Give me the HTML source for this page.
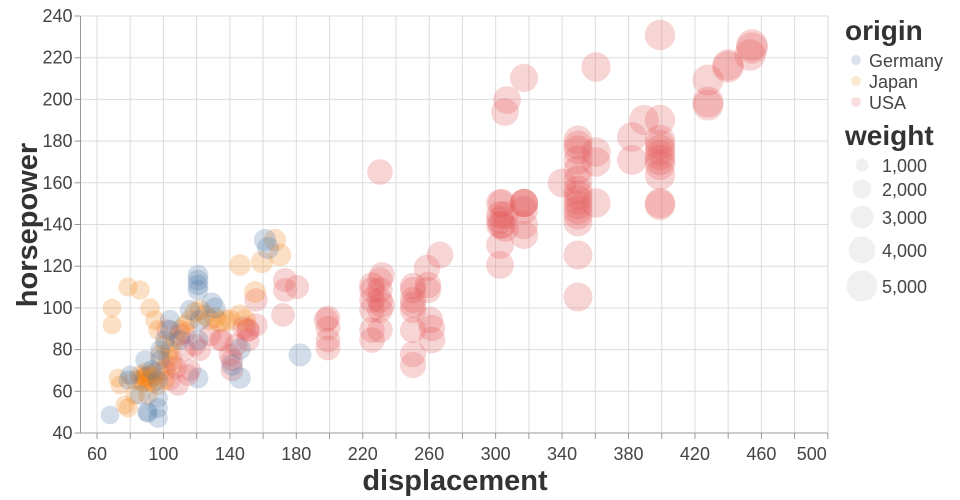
<!DOCTYPE html>
<html><head><meta charset="utf-8"><style>
html,body{margin:0;padding:0;background:#fff;width:960px;height:500px;overflow:hidden}
svg text{font-family:"Liberation Sans","DejaVu Sans",sans-serif;fill:#444}
</style></head><body>
<svg id="s" width="960" height="500" xmlns="http://www.w3.org/2000/svg">
<g id="grid" stroke="#ddd" stroke-width="1"></g>
<g id="pts"></g>
<g id="ax"></g>
<text x="455" y="490" text-anchor="middle" font-size="29" font-weight="bold" style="fill:#333">displacement</text>
<text transform="translate(37,225) rotate(-90)" text-anchor="middle" font-size="29" font-weight="bold" style="fill:#333">horsepower</text>
<text x="845" y="40" font-size="28" font-weight="bold" style="fill:#333">origin</text>
<circle cx="856" cy="60" r="5" fill="#4c78a8" fill-opacity="0.2"/>
<circle cx="856" cy="81" r="5" fill="#f58518" fill-opacity="0.2"/>
<circle cx="856" cy="102" r="5" fill="#e45756" fill-opacity="0.2"/>
<text x="869" y="67" font-size="18">Germany</text>
<text x="869" y="88" font-size="18">Japan</text>
<text x="869" y="109" font-size="18">USA</text>
<text x="845" y="145" font-size="28" font-weight="bold" style="fill:#333">weight</text>
<g fill="#000" fill-opacity="0.06">
<circle cx="862" cy="165" r="6.5"/><circle cx="862" cy="189" r="9.5"/><circle cx="862" cy="217" r="11.5"/><circle cx="862" cy="250" r="13.5"/><circle cx="862" cy="286" r="15.5"/></g>
<text x="882" y="172" font-size="18">1,000</text>
<text x="882" y="196" font-size="18">2,000</text>
<text x="882" y="224" font-size="18">3,000</text>
<text x="882" y="257" font-size="18">4,000</text>
<text x="882" y="293" font-size="18">5,000</text>
</svg>
<script>
var NS="http://www.w3.org/2000/svg";
function el(t,a,p,txt){var e=document.createElementNS(NS,t);for(var k in a)e.setAttribute(k,a[k]);if(txt)e.textContent=txt;document.getElementById(p).appendChild(e);return e;}
var L=80.5,R=828,T=16,B=433;
function X(d){return 97+(d-60)*1.661;}
function Y(h){return B-(h-40)*2.085;}
for(var d=60;d<=500;d+=20){var x=X(d);el("line",{x1:x,x2:x,y1:T,y2:B},"grid");
 el("line",{x1:x,x2:x,y1:B,y2:B+6,stroke:"#999"},"ax");
 if(d%40==20){var anc=d==500?"end":"middle";el("text",{x:d==500?x-1:x,y:B+27,"font-size":"18","text-anchor":anc},"ax",String(d));}}
el("line",{x1:L,x2:L,y1:T,y2:B},"grid");el("line",{x1:R,x2:R,y1:T,y2:B},"grid");
for(var h=40;h<=240;h+=20){var y=Y(h);el("line",{x1:L,x2:R,y1:y,y2:y},"grid");
 el("line",{x1:L-6,x2:L,y1:y,y2:y,stroke:"#999"},"ax");
 el("text",{x:L-8,y:y+6,"font-size":"18","text-anchor":"end"},"ax",String(h));}
el("line",{x1:L,x2:R,y1:B,y2:B,stroke:"#999"},"ax");
el("line",{x1:L,x2:L,y1:T,y2:B,stroke:"#999"},"ax");
var C={g:"#4c78a8",j:"#f58518",u:"#e45756"};
var P=[
"u 752 45","u 752 48","u 750 55","u 728 65","u 728 67","u 708 102","u 708 105","u 708 80",
"u 660 35","u 660 120","u 660 140","u 660 150","u 660 155","u 660 165","u 660 175","u 660 203","u 660 205","u 660 145","u 660 160",
"u 644 120","u 632 137","u 632 160","u 596 67","u 596 152","u 596 162","u 596 203",
"u 578 140","u 578 145","u 578 160","u 578 170","u 578 180","u 578 190","u 578 195","u 578 200","u 578 210","u 578 215","u 578 222","u 578 255","u 578 297","u 578 150","u 578 205",
"u 562 183","u 524 78","u 524 203","u 524 210","u 524 225","u 524 235","u 524 203","u 524 203",
"u 507 100","u 505 112","u 500 203","u 500 215","u 500 225","u 500 245","u 500 265","u 505 215","u 505 228","u 500 220","u 502 225","u 502 203",
"u 413 286","u 413 300","u 413 310","u 413 330","u 413 365","u 413 354","u 413 290","u 413 305",
"u 428 285","u 428 290","u 430 320","u 432 328","u 432 340","u 440 255","u 427 268",
"u 380 172","u 380 280","u 380 290","u 380 300","u 380 310","u 380 330","u 372 290","u 372 300","u 372 310","u 372 330","u 372 340","u 382 305","u 382 275","u 372 285",
"u 328 318","u 328 328","u 328 340","u 328 348","u 326 320",
"u 285 280","u 285 290","u 283 315","u 297 287","u 256 300","u 256 325","u 248 330","u 248 340","u 232 360","u 232 370","u 220 340","u 248 330","u 236 345",
"u 167 330","u 172 360","u 180 335","u 185 350","u 190 370","u 170 380","u 200 350","u 185 333","u 195 345","u 178 385","u 165 370","u 210 335","u 222 340",
"j 112 308","j 112 325","j 128 287","j 140 290","j 150 308","j 155 320","j 158 330","j 165 345","j 160 355","j 165 380","j 150 375","j 140 375","j 135 380","j 120 385","j 125 405","j 135 395","j 200 310","j 210 320","j 225 320","j 240 265","j 240 315","j 245 320","j 255 292","j 262 262","j 275 240","j 280 255",
"j 145 378","j 148 382","j 152 377","j 146 372","j 143 383","j 155 372","j 158 385","j 170 350","j 175 340","j 180 330","j 190 320","j 195 312","j 215 318","j 230 320","j 128 408","j 118 378","j 148 395","j 140 380",
"j 147 376","j 150 380","j 144 377","j 153 383","j 160 372","j 172 365","j 168 358","j 185 325","j 205 315","j 220 322",
"g 110 415","g 130 375","g 128 380","g 140 395","g 148 413","g 158 418","g 158 408","g 158 398","g 158 380","g 160 360","g 160 350","g 165 340","g 170 320","g 180 340","g 190 310","g 198 280","g 198 275","g 198 285","g 198 290","g 198 340","g 198 378","g 212 303","g 215 308","g 232 365","g 240 378","g 240 349","g 265 240","g 268 248","g 300 355","g 200 320","g 145 360","g 152 370","g 147 412","g 170 330",
"u 188 375","u 176 368","u 230 355","u 244 328"
];
P.forEach(function(s){var a=s.split(" ");var x=+a[1],y=+a[2];var d=(x-97)/1.661+60;var w=1200+d*7.5;if(a[0]=="u")w+=300;var r=15*Math.sqrt(w/4400);
el("circle",{cx:x,cy:y,r:r.toFixed(1),fill:C[a[0]],"fill-opacity":"0.25"},"pts");});
</script>
</body></html>
